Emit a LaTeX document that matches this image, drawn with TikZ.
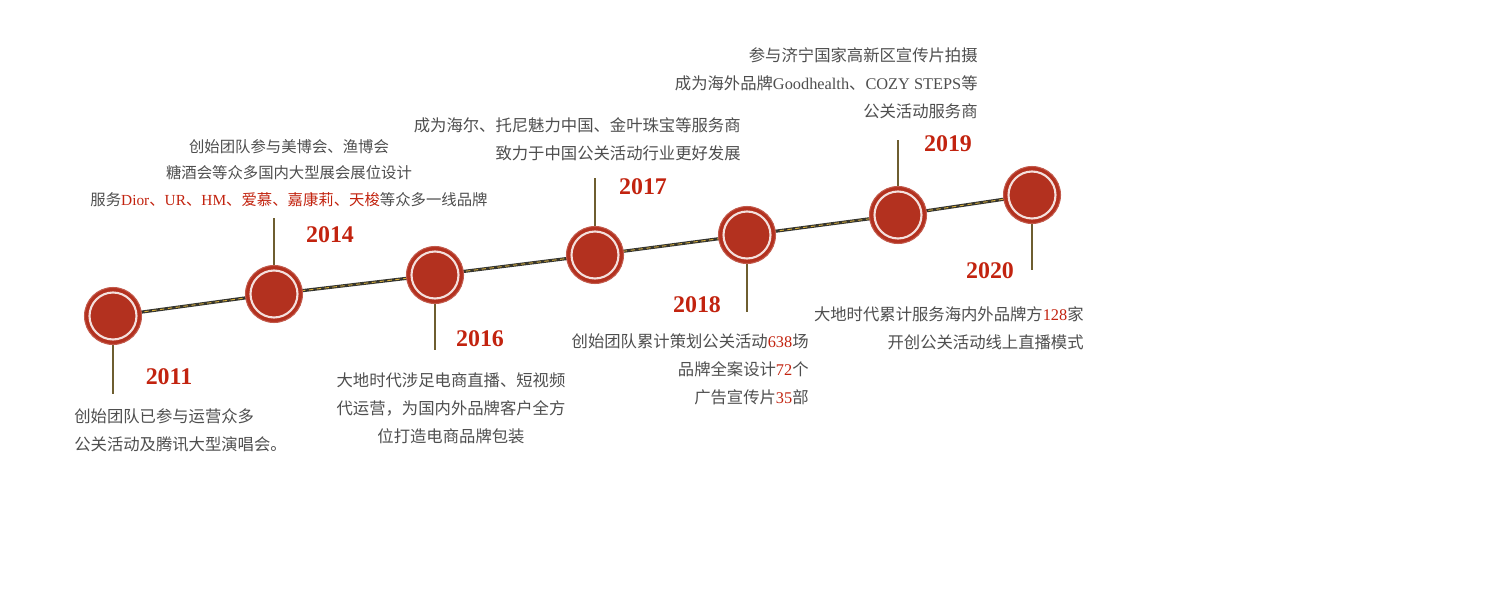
\documentclass[tikz,border=0pt]{standalone}
\usepackage{fontspec}
\setmainfont{Liberation Serif}
\newfontfamily\cjk{Noto Sans CJK SC}
\definecolor{dotred}{HTML}{B3311F}
\definecolor{yearred}{HTML}{C2230F}
\definecolor{textgray}{HTML}{4E4E4E}
\definecolor{roadgray}{HTML}{35352E}
\definecolor{roadgold}{HTML}{D8AE3A}
\definecolor{stemcol}{HTML}{6E5E30}
\newcommand\lat[1]{{\rmfamily #1}}
\newcommand\hl[1]{\textcolor{yearred}{#1}}
\begin{document}
\begin{tikzpicture}[x=0.02cm,y=-0.02cm,
    dot/.style={circle,fill=dotred,draw=dotred!80!white,line width=0.6pt,minimum size=1.14cm,inner sep=0pt},
    ring/.style={draw=white!85!dotred,line width=1.2pt},
    road/.style={draw=roadgray,line width=1.8pt},
    roadmark/.style={draw=roadgold,line width=0.5pt,dash pattern=on 2.5pt off 2pt},
    stem/.style={draw=stemcol,line width=0.9pt},
    year/.style={font=\rmfamily\bfseries\fontsize{13.6}{16}\selectfont,text=yearred,inner sep=0pt},
    txt/.style={font=\cjk\fontsize{9.3}{16}\selectfont,text=textgray,inner sep=0pt}]
    \useasboundingbox (0,0) rectangle (1512,605);
    %% Timeline
    \coordinate (p2011) at (113,316);
    \coordinate (p2014) at (274,294);
    \coordinate (p2016) at (435,275);
    \coordinate (p2017) at (595,255);
    \coordinate (p2018) at (747,235);
    \coordinate (p2019) at (898,215);
    \coordinate (p2020) at (1032,195);
    \draw[road] (p2011) -- (p2014) -- (p2016) -- (p2017) -- (p2018) -- (p2019) -- (p2020);
    \draw[roadmark] (p2011) -- (p2014) -- (p2016) -- (p2017) -- (p2018) -- (p2019) -- (p2020);
    %% Stems
    \coordinate (s2011) at (113,394);
    \coordinate (s2014) at (274,218);
    \coordinate (s2016) at (435,350);
    \coordinate (s2017) at (595,178);
    \coordinate (s2018) at (747,312);
    \coordinate (s2019) at (898,140);
    \coordinate (s2020) at (1032,270);
    \foreach \yr in {2011,2014,2016,2017,2018,2019,2020}{
        \draw[stem] (p\yr) -- (s\yr);
        \node[dot] (c\yr) at (p\yr) {};
        \draw[ring] (c\yr.center) circle (0.47cm);
    }
    %% Years
    \node[year] (y2011) at (169,377) {2011};
    \node[year] (y2014) at (330,235) {2014};
    \node[year] (y2016) at (480,339) {2016};
    \node[year] (y2017) at (643,187) {2017};
    \node[year] (y2018) at (697,305) {2018};
    \node[year] (y2019) at (948,144) {2019};
    \node[year] (y2020) at (990,271) {2020};
    %% Texts
    \node[txt,anchor=north west,align=left] (t2011) at (74,408)
        {创始团队已参与运营众多\\公关活动及腾讯大型演唱会。};
    \node[txt,anchor=north,align=center,font=\cjk\fontsize{8.75}{15}\selectfont] (t2014) at (289,139)
        {创始团队参与美博会、渔博会\\糖酒会等众多国内大型展会展位设计\\服务\hl{\lat{Dior}、\lat{UR}、\lat{HM}、爱慕、嘉康莉、天梭}等众多一线品牌};
    \node[txt,anchor=north,align=center] (t2016) at (451,372)
        {大地时代涉足电商直播、短视频\\代运营，为国内外品牌客户全方\\位打造电商品牌包装};
    \node[txt,anchor=north east,align=right] (t2017) at (741,117)
        {成为海尔、托尼魅力中国、金叶珠宝等服务商\\致力于中国公关活动行业更好发展};
    \node[txt,anchor=north east,align=right] (t2018) at (809,333)
        {创始团队累计策划公关活动\hl{\lat{638}}场\\品牌全案设计\hl{\lat{72}}个\\广告宣传片\hl{\lat{35}}部};
    \node[txt,anchor=north east,align=right] (t2019) at (978,47)
        {参与济宁国家高新区宣传片拍摄\\成为海外品牌\lat{Goodhealth}、\lat{COZY STEPS}等\\公关活动服务商};
    \node[txt,anchor=north east,align=right] (t2020) at (1084,306)
        {大地时代累计服务海内外品牌方\hl{\lat{128}}家\\开创公关活动线上直播模式};
\end{tikzpicture}
\end{document}
